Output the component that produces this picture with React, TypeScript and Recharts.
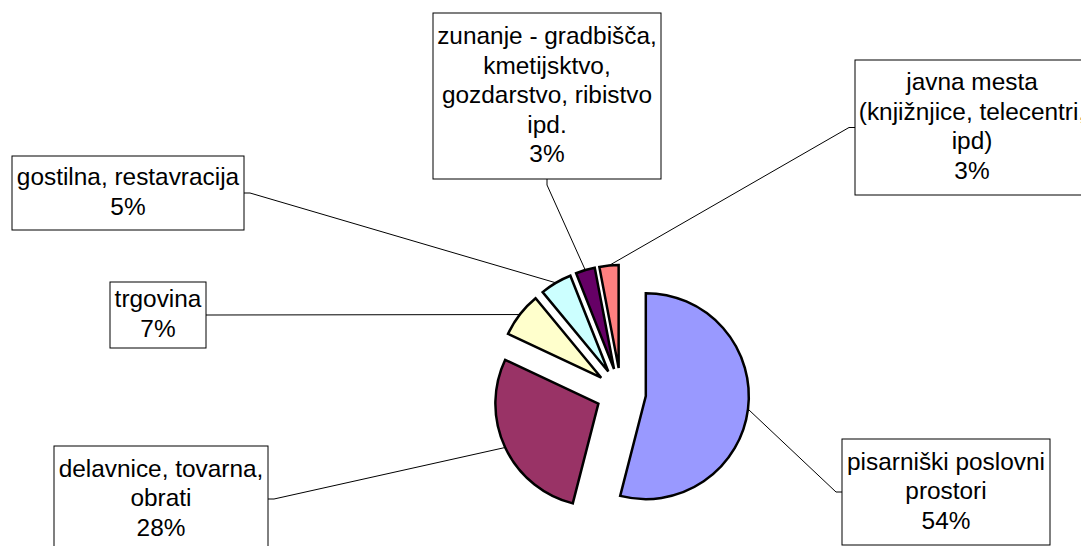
import { PieChart, Pie, Cell, Sector } from "recharts"

const categories = [
  "pisarniški poslovni\nprostori",
  "delavnice, tovarna,\nobrati",
  "trgovina",
  "gostilna, restavracija",
  "zunanje - gradbišča,\nkmetijsktvo,\ngozdarstvo, ribistvo\nipd.",
  "javna mesta\n(knjižnjice, telecentri,\nipd)",
]
const shares = [54, 28, 7, 5, 3, 3]
const colors = ["#9999FF", "#993366", "#FFFFCC", "#CCFFFF", "#660066", "#FF8080"]

// the labels were dragged around by hand in the original, so their boxes are fixed here
const labelBoxes = [
  { x: 842, y: 439, w: 208, h: 106, side: "left" },
  { x: 54, y: 446, w: 214, h: 106, side: "right" },
  { x: 110, y: 282, w: 96, h: 66, side: "right" },
  { x: 12, y: 156, w: 232, h: 74, side: "right" },
  { x: 433, y: 13, w: 228, h: 166, side: "bottom" },
  { x: 855, y: 60, w: 234, h: 135, side: "left" },
]

const data = categories.map((name, i) => ({ name, value: shares[i] }))

const EXPLODE = 25
const RAD = Math.PI / 180

function ExplodedSector(props: any) {
  const { cx, cy, midAngle } = props
  const dx = EXPLODE * Math.cos(-midAngle * RAD)
  const dy = EXPLODE * Math.sin(-midAngle * RAD)
  return <Sector {...props} cx={cx + dx} cy={cy + dy} />
}

function BoxLabel(props: any) {
  const { cx, cy, midAngle, outerRadius, percent, index } = props
  const box = labelBoxes[index]
  const r = outerRadius + EXPLODE
  const ex = cx + r * Math.cos(-midAngle * RAD)
  const ey = cy + r * Math.sin(-midAngle * RAD)

  let ax = box.x + box.w / 2
  let ay = box.y + box.h
  let sx = ax
  let sy = ay + 6
  if (box.side === "left") {
    ax = box.x
    ay = box.y + box.h / 2
    sx = ax - 6
    sy = ay
  } else if (box.side === "right") {
    ax = box.x + box.w
    ay = box.y + box.h / 2
    sx = ax + 6
    sy = ay
  }

  const lines = [...categories[index].split("\n"), `${Math.round(percent * 100)}%`]
  const lh = 29.5
  const first = box.y + box.h / 2 - ((lines.length - 1) * lh) / 2 + 7
  const tx = box.x + box.w / 2

  return (
    <g>
      <polyline points={`${ex},${ey} ${sx},${sy} ${ax},${ay}`} fill="none" stroke="#000" strokeWidth={1} />
      <rect x={box.x} y={box.y} width={box.w} height={box.h} fill="#fff" stroke="#000" strokeWidth={1} />
      <text
        textAnchor="middle"
        fontSize={24.4}
        fontFamily="'Liberation Sans', Arial, sans-serif"
        fill="#000"
      >
        {lines.map((l, i) => (
          <tspan key={i} x={tx} y={first + i * lh}>
            {l}
          </tspan>
        ))}
      </text>
    </g>
  )
}

export default function App() {
  return (
    <div style={{ position: "absolute", left: 0, top: 0, width: 1081, height: 546, overflow: "hidden", background: "#fff" }}>
      <PieChart width={1081} height={546} margin={{ top: 0, right: 0, bottom: 0, left: 0 }}>
        <Pie
          data={data}
          dataKey="value"
          nameKey="name"
          cx={621}
          cy={393}
          outerRadius={103}
          startAngle={90}
          endAngle={-270}
          stroke="#000"
          strokeWidth={2.5}
          strokeLinejoin="miter"
          shape={ExplodedSector}
          label={BoxLabel}
          labelLine={false}
          isAnimationActive={false}
        >
          {data.map((d, i) => (
            <Cell key={d.name} fill={colors[i]} />
          ))}
        </Pie>
      </PieChart>
    </div>
  )
}
